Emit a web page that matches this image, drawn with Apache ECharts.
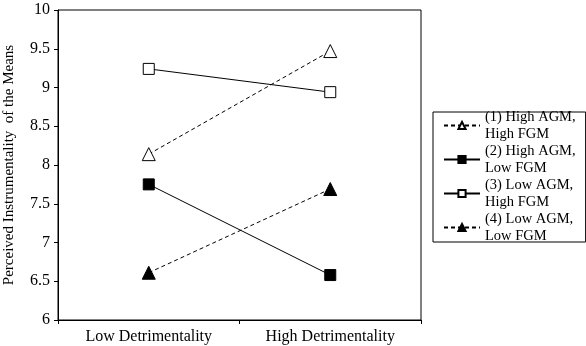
<!DOCTYPE html>
<html>
<head>
<meta charset="utf-8">
<script src="https://cdn.jsdelivr.net/npm/echarts@6/dist/echarts.min.js"></script>
<style>
    html, body { margin: 0; padding: 0; background: #fff; }
    #main { width: 586px; height: 346px; }
</style>
</head>
<body>
<div id="main"></div>
<script>
    // categories on the x axis
    var categories = ['Low Detrimentality', 'High Detrimentality'];

    // group means
    var highAgmHighFgm = [8.14, 9.47];
    var highAgmLowFgm = [7.75, 6.58];
    var lowAgmHighFgm = [9.24, 8.94];
    var lowAgmLowFgm = [6.61, 7.69];

    var names = [
        '(1) High AGM,\nHigh FGM',
        '(2) High AGM,\nLow FGM',
        '(3) Low AGM,\nHigh FGM',
        '(4) Low AGM,\nLow FGM'
    ];

    var font = '"Liberation Serif", "Times New Roman", serif';

    var chart = echarts.init(document.getElementById('main'));

    function lineSeries(name, data, symbol, filled, dashed) {
        return {
            name: name,
            type: 'line',
            data: data,
            symbol: symbol,
            symbolSize: symbol === 'triangle' ? 13 : 11,
            showSymbol: true,
            animation: false,
            z: 3,
            lineStyle: {
                color: '#000',
                width: 1,
                type: dashed ? [4, 3] : 'solid'
            },
            itemStyle: {
                color: filled ? '#000' : '#fff',
                borderColor: '#000',
                borderWidth: 1,
                opacity: 1
            }
        };
    }

    var option = {
        backgroundColor: '#fff',
        animation: false,
        grid: {
            left: 58,
            top: 10,
            right: 165,
            bottom: 26,
            outerBoundsMode: 'none',
            containLabel: false,
            show: true,
            borderColor: '#000',
            borderWidth: 1,
            backgroundColor: 'transparent'
        },
        legend: {
            orient: 'vertical',
            left: 433,
            top: 112,
            data: names,
            itemWidth: 36,
            itemHeight: 9,
            itemGap: -17,
            padding: [-12, 10, -11, 10],
            borderColor: '#000',
            borderWidth: 1,
            backgroundColor: '#fff',
            selectedMode: false,
            textStyle: {
                fontFamily: font,
                fontSize: 14.5,
                color: '#000',
                lineHeight: 17,
                padding: [17, 0, 0, 0]
            }
        },
        xAxis: {
            type: 'category',
            data: categories,
            boundaryGap: true,
            axisLine: { lineStyle: { color: '#000', width: 1 } },
            axisTick: { show: true, length: 4, lineStyle: { color: '#000' } },
            axisLabel: {
                fontFamily: font,
                fontSize: 16,
                color: '#000',
                margin: 9
            },
            splitLine: { show: false }
        },
        yAxis: {
            type: 'value',
            min: 6,
            max: 10,
            interval: 0.5,
            name: 'Perceived Instrumentality  of the Means',
            nameLocation: 'middle',
            nameGap: 41,
            nameTextStyle: {
                fontFamily: font,
                fontSize: 15,
                color: '#000'
            },
            axisLine: { show: true, lineStyle: { color: '#000', width: 1 } },
            axisTick: { show: true, length: 4, lineStyle: { color: '#000' } },
            axisLabel: {
                fontFamily: font,
                fontSize: 16,
                color: '#000',
                margin: 8
            },
            splitLine: { show: false }
        },
        series: [
            lineSeries(names[0], highAgmHighFgm, 'triangle', false, true),
            lineSeries(names[1], highAgmLowFgm, 'rect', true, false),
            lineSeries(names[2], lowAgmHighFgm, 'rect', false, false),
            lineSeries(names[3], lowAgmLowFgm, 'triangle', true, true)
        ]
    };

    option && chart.setOption(option);
</script>
</body>
</html>
